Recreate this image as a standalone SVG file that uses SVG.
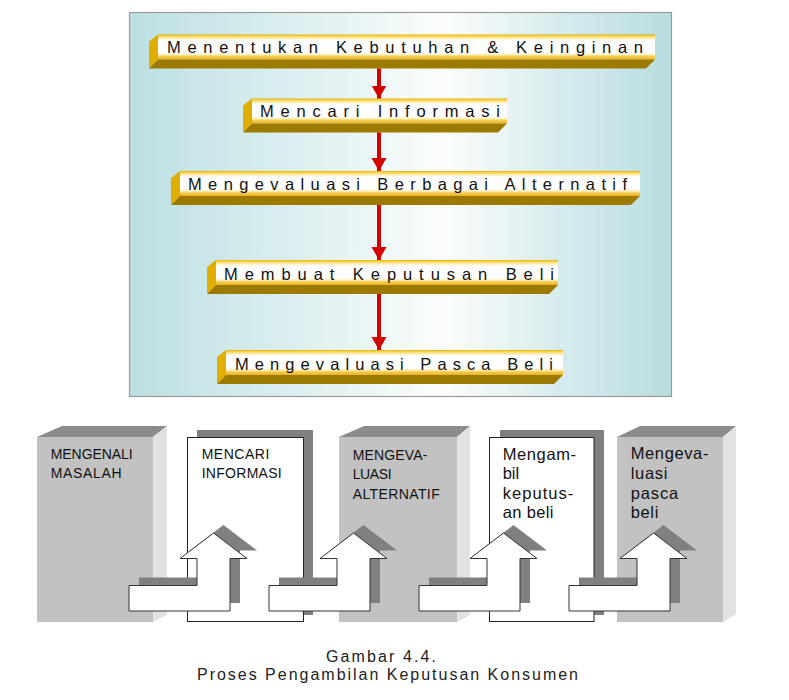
<svg xmlns="http://www.w3.org/2000/svg" xmlns:xlink="http://www.w3.org/1999/xlink" width="789" height="700" viewBox="0 0 789 700">
<style>
.lbl{font-family:"Liberation Sans",Arial,sans-serif;font-size:16.5px;fill:#111}
.cpt{font-family:"Liberation Sans",Arial,sans-serif;font-size:16px;fill:#222}
.cap{font-family:"Liberation Sans",Arial,sans-serif;font-size:14px;fill:#111}
.mix{font-family:"Liberation Sans",Arial,sans-serif;font-size:16.5px;fill:#111}
.lf{fill:#e0ae00}
.bf{fill:#9c7a00}
.ff{fill:url(#gf)}
.red{stroke:#d40000;stroke-width:4;fill:none}
.gfront{fill:#c2c2c2}
.gtop{fill:#8c8c8c}
.gside{fill:#e2e2e2}
.wbox{fill:#fff;stroke:#222;stroke-width:1}
.shd{fill:#808080}
.arw{fill:#fff;stroke:#333;stroke-width:1}
</style>
<defs>
<linearGradient id="gp" x1="0" y1="0" x2="1" y2="0">
<stop offset="0" stop-color="#bcdfe2"/>
<stop offset="0.3" stop-color="#dcefF0"/>
<stop offset="0.58" stop-color="#fbfdfd"/>
<stop offset="0.8" stop-color="#d6ebed"/>
<stop offset="1" stop-color="#b8dce0"/>
</linearGradient>
<linearGradient id="gf" x1="0" y1="0" x2="0" y2="1">
<stop offset="0" stop-color="#e4ae00"/>
<stop offset="0.06" stop-color="#f8d24a"/>
<stop offset="0.16" stop-color="#fff0c0"/>
<stop offset="0.24" stop-color="#ffffff"/>
<stop offset="0.72" stop-color="#ffffff"/>
<stop offset="0.8" stop-color="#fff0c0"/>
<stop offset="0.88" stop-color="#f6cc50"/>
<stop offset="1" stop-color="#eab020"/>
</linearGradient>
<marker id="ah" markerUnits="userSpaceOnUse" markerWidth="16" markerHeight="16" refX="13" refY="7.5" orient="auto">
<path d="M0,0 L13,7.5 L0,15 Z" fill="#d40000"/>
</marker>
<path id="larrow" d="M-68,585.5 H0 V558.5 H-17 L16.5,533 L50,558.5 H33 V611 H-68 Z"/>
</defs>

<rect width="789" height="700" fill="#fff"/>

<g id="panel">
<rect x="129.5" y="12.5" width="542" height="384" fill="url(#gp)" stroke="#9a9a9a" stroke-width="1.2"/>
</g>

<g id="step1">
<polygon class="lf" points="158,34.5 149,41.5 149,68.5 158,59.5"/>
<rect class="ff" x="158" y="34.5" width="497" height="25"/>
<polygon class="bf" points="158,59.5 655,59.5 646,68.5 149,68.5"/>
<text class="lbl" x="167" y="52.5" textLength="476" lengthAdjust="spacing">Menentukan Kebutuhan &amp; Keinginan</text>
</g>
<g id="step2">
<polygon class="lf" points="252,98.5 243,105.5 243,132.5 252,123.5"/>
<rect class="ff" x="252" y="98.5" width="255" height="25"/>
<polygon class="bf" points="252,123.5 507,123.5 498,132.5 243,132.5"/>
<text class="lbl" x="260" y="116.5" textLength="240" lengthAdjust="spacing">Mencari Informasi</text>
</g>
<g id="step3">
<polygon class="lf" points="180,171 171,178 171,205 180,196"/>
<rect class="ff" x="180" y="171" width="460" height="25"/>
<polygon class="bf" points="180,196 640,196 631,205 171,205"/>
<text class="lbl" x="188" y="190" textLength="439" lengthAdjust="spacing">Mengevaluasi Berbagai Alternatif</text>
</g>
<g id="step4">
<polygon class="lf" points="216,260 207,267 207,294 216,285"/>
<rect class="ff" x="216" y="260" width="342" height="25"/>
<polygon class="bf" points="216,285 558,285 549,294 207,294"/>
<text class="lbl" x="224" y="279.5" textLength="330" lengthAdjust="spacing">Membuat Keputusan Beli</text>
</g>
<g id="step5">
<polygon class="lf" points="226,350 217,357 217,384 226,375"/>
<rect class="ff" x="226" y="350" width="337" height="25"/>
<polygon class="bf" points="226,375 563,375 554,384 217,384"/>
<text class="lbl" x="235" y="369.5" textLength="318" lengthAdjust="spacing">Mengevaluasi Pasca Beli</text>
</g>

<g id="block1">
<rect class="gfront" x="37" y="437" width="116" height="185"/>
<polygon class="gtop" points="37,437 62,426 167,426 153,437"/>
<polygon class="gside" points="153,437 167,426 167,615 153,622"/>
<text class="cap" x="50.7" y="459" textLength="82" lengthAdjust="spacing">MENGENALI</text>
<text class="cap" x="50.7" y="478.3" textLength="71" lengthAdjust="spacing">MASALAH</text>
</g>
<g id="block2">
<rect class="shd" x="197" y="430" width="116" height="185"/>
<rect class="wbox" x="187.5" y="437.5" width="116" height="184"/>
<text class="cap" x="201.7" y="459" textLength="67.6" lengthAdjust="spacing">MENCARI</text>
<text class="cap" x="201.7" y="478.3" textLength="80" lengthAdjust="spacing">INFORMASI</text>
</g>
<g id="block3">
<rect class="gfront" x="339" y="437" width="118" height="185"/>
<polygon class="gtop" points="339,437 364,426 470,426 457,437"/>
<polygon class="gside" points="457,437 470,426 470,615 457,622"/>
<text class="cap" x="352.7" y="460" textLength="74.7" lengthAdjust="spacing">MENGEVA-</text>
<text class="cap" x="352.7" y="479.3" textLength="39" lengthAdjust="spacing">LUASI</text>
<text class="cap" x="352.7" y="499.3" textLength="87" lengthAdjust="spacing">ALTERNATIF</text>
</g>
<g id="block4">
<rect class="shd" x="500" y="430" width="104" height="185"/>
<rect class="wbox" x="489.5" y="437.5" width="104.5" height="184"/>
<text class="mix" x="502.7" y="460" textLength="73.3" lengthAdjust="spacing">Mengam-</text>
<text class="mix" x="502.7" y="479.3">bil</text>
<text class="mix" x="502.7" y="499.3" textLength="70.6" lengthAdjust="spacing">keputus-</text>
<text class="mix" x="502.7" y="518.3" textLength="50.6" lengthAdjust="spacing">an beli</text>
</g>
<g id="block5">
<rect class="gfront" x="617" y="437" width="106" height="185"/>
<polygon class="gtop" points="617,437 640,426 736,426 723,437"/>
<polygon class="gside" points="723,437 736,426 736,614 723,622"/>
<text class="mix" x="630.7" y="459.3" textLength="77.7" lengthAdjust="spacing">Mengeva-</text>
<text class="mix" x="630.7" y="479.3" textLength="36.6" lengthAdjust="spacing">luasi</text>
<text class="mix" x="630.7" y="499.3" textLength="47.6" lengthAdjust="spacing">pasca</text>
<text class="mix" x="630.7" y="518.3" textLength="27.6" lengthAdjust="spacing">beli</text>
</g>

<g id="connectors">
<line class="red" x1="379" y1="68.5" x2="379" y2="98.5" marker-end="url(#ah)"/>
<line class="red" x1="379" y1="132.5" x2="379" y2="171" marker-end="url(#ah)"/>
<line class="red" x1="379" y1="205" x2="379" y2="260" marker-end="url(#ah)"/>
<line class="red" x1="379" y1="294" x2="379" y2="350" marker-end="url(#ah)"/>
<use xlink:href="#larrow" class="shd" x="207" y="-8"/>
<use xlink:href="#larrow" class="arw" x="197" y="0"/>
<use xlink:href="#larrow" class="shd" x="347" y="-8"/>
<use xlink:href="#larrow" class="arw" x="337" y="0"/>
<use xlink:href="#larrow" class="shd" x="497" y="-8"/>
<use xlink:href="#larrow" class="arw" x="487" y="0"/>
<use xlink:href="#larrow" class="shd" x="647" y="-8"/>
<use xlink:href="#larrow" class="arw" x="637" y="0"/>
</g>

<g id="caption">
<text class="cpt" x="326" y="661.7" textLength="110" lengthAdjust="spacing">Gambar 4.4.</text>
<text class="cpt" x="197" y="680" textLength="381" lengthAdjust="spacing">Proses Pengambilan Keputusan Konsumen</text>
</g>
</svg>
